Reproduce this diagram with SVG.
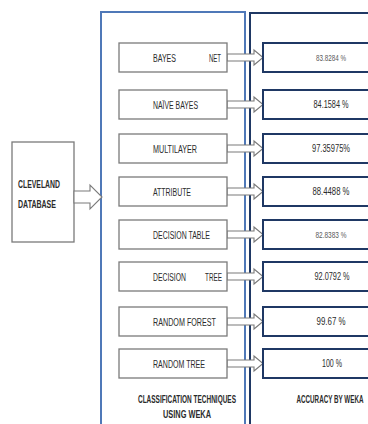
<svg xmlns="http://www.w3.org/2000/svg" width="368" height="424" viewBox="0 0 368 424">
<style>
.panelL{fill:none;stroke:#4f78b8;stroke-width:2}
.panelR{fill:none;stroke:#1f3864;stroke-width:2}
.box{fill:#fff;stroke:#7a7a7a;stroke-width:1.3}
.rbox{fill:#fff;stroke:#1f3864;stroke-width:2}
.arrow{fill:#fff;stroke:#7a7a7a;stroke-width:1.1}
.t{font-family:"Liberation Sans",Arial,sans-serif;font-size:10px;fill:#2b2b2b}
.v{font-family:"Liberation Sans",Arial,sans-serif;font-size:10px;fill:#2b2b2b;text-anchor:middle}
.vs{font-family:"Liberation Sans",Arial,sans-serif;font-size:9px;fill:#5a5a5a;text-anchor:middle}
.b{font-family:"Liberation Sans",Arial,sans-serif;font-size:10px;font-weight:bold;fill:#2b2b2b}
.bc{font-family:"Liberation Sans",Arial,sans-serif;font-size:10px;font-weight:bold;fill:#2b2b2b;text-anchor:middle}
</style>
<rect width="368" height="424" fill="#fff"/>
<g id="panel-classification">
<rect class="panelL" x="101" y="12" width="144" height="500"/>
<text class="bc" x="187" y="403" textLength="98" lengthAdjust="spacingAndGlyphs">CLASSIFICATION TECHNIQUES</text>
<text class="bc" x="187" y="418" textLength="48" lengthAdjust="spacingAndGlyphs">USING WEKA</text>
</g>
<g id="panel-accuracy">
<rect class="panelR" x="250" y="13" width="200" height="500"/>
<text class="bc" x="330" y="403" textLength="67" lengthAdjust="spacingAndGlyphs">ACCURACY BY WEKA</text>
</g>
<g id="cleveland">
<rect class="box" x="12" y="142" width="62" height="100"/>
<text class="b" x="18" y="188" textLength="42" lengthAdjust="spacingAndGlyphs">CLEVELAND</text>
<text class="b" x="18" y="208" textLength="38" lengthAdjust="spacingAndGlyphs">DATABASE</text>
</g>
<g id="connectors">
<path class="arrow" d="M74,191 H90 V185 L102,197 L90,209 V203 H74 Z"/>
<path class="arrow" d="M227,54 H254 V50 L263,57.5 L254,65 V61 H227 Z"/>
<path class="arrow" d="M227,101 H254 V97 L263,104.5 L254,112 V108 H227 Z"/>
<path class="arrow" d="M227,145 H254 V141 L263,148.5 L254,156 V152 H227 Z"/>
<path class="arrow" d="M227,188 H254 V184 L263,191.5 L254,199 V195 H227 Z"/>
<path class="arrow" d="M227,231 H254 V227 L263,234.5 L254,242 V238 H227 Z"/>
<path class="arrow" d="M227,273 H254 V269 L263,276.5 L254,284 V280 H227 Z"/>
<path class="arrow" d="M227,318 H254 V314 L263,321.5 L254,329 V325 H227 Z"/>
<path class="arrow" d="M227,360 H254 V356 L263,363.5 L254,371 V367 H227 Z"/>
</g>
<g id="bayes-net">
<rect class="box" x="119" y="43" width="108" height="29"/>
<text class="t" x="153" y="61.5" textLength="23" lengthAdjust="spacingAndGlyphs">BAYES</text>
<text class="t" x="209" y="61.5" textLength="12" lengthAdjust="spacingAndGlyphs">NET</text>
</g>
<g id="naive-bayes">
<rect class="box" x="119" y="90" width="108" height="29"/>
<text class="t" x="153" y="108.5" textLength="45" lengthAdjust="spacingAndGlyphs">NAÏVE BAYES</text>
</g>
<g id="multilayer">
<rect class="box" x="119" y="134" width="108" height="29"/>
<text class="t" x="153" y="152.5" textLength="44" lengthAdjust="spacingAndGlyphs">MULTILAYER</text>
</g>
<g id="attribute">
<rect class="box" x="119" y="177" width="108" height="29"/>
<text class="t" x="153" y="195.5" textLength="38" lengthAdjust="spacingAndGlyphs">ATTRIBUTE</text>
</g>
<g id="decision-table">
<rect class="box" x="119" y="220" width="108" height="29"/>
<text class="t" x="153" y="238.5" textLength="57" lengthAdjust="spacingAndGlyphs">DECISION TABLE</text>
</g>
<g id="decision-tree">
<rect class="box" x="119" y="262" width="108" height="29"/>
<text class="t" x="153" y="280.5" textLength="33" lengthAdjust="spacingAndGlyphs">DECISION</text>
<text class="t" x="205" y="280.5" textLength="17" lengthAdjust="spacingAndGlyphs">TREE</text>
</g>
<g id="random-forest">
<rect class="box" x="119" y="307" width="108" height="29"/>
<text class="t" x="153" y="325.5" textLength="63" lengthAdjust="spacingAndGlyphs">RANDOM FOREST</text>
</g>
<g id="random-tree">
<rect class="box" x="119" y="349" width="108" height="29"/>
<text class="t" x="153" y="367.5" textLength="52" lengthAdjust="spacingAndGlyphs">RANDOM TREE</text>
</g>
<g id="acc-bayes-net">
<rect class="rbox" x="263" y="43" width="137" height="29"/>
<text class="vs" x="331" y="61" textLength="30" lengthAdjust="spacingAndGlyphs">83.8284 %</text>
</g>
<g id="acc-naive-bayes">
<rect class="rbox" x="263" y="90" width="137" height="29"/>
<text class="v" x="331" y="108" textLength="35" lengthAdjust="spacingAndGlyphs">84.1584 %</text>
</g>
<g id="acc-multilayer">
<rect class="rbox" x="263" y="134" width="137" height="29"/>
<text class="v" x="331" y="152" textLength="38" lengthAdjust="spacingAndGlyphs">97.35975%</text>
</g>
<g id="acc-attribute">
<rect class="rbox" x="263" y="177" width="137" height="29"/>
<text class="v" x="331" y="195" textLength="37" lengthAdjust="spacingAndGlyphs">88.4488 %</text>
</g>
<g id="acc-decision-table">
<rect class="rbox" x="263" y="220" width="137" height="29"/>
<text class="vs" x="331" y="238" textLength="31" lengthAdjust="spacingAndGlyphs">82.8383 %</text>
</g>
<g id="acc-decision-tree">
<rect class="rbox" x="263" y="262" width="137" height="29"/>
<text class="v" x="332" y="280" textLength="35" lengthAdjust="spacingAndGlyphs">92.0792 %</text>
</g>
<g id="acc-random-forest">
<rect class="rbox" x="263" y="307" width="137" height="29"/>
<text class="v" x="331" y="325" textLength="29" lengthAdjust="spacingAndGlyphs">99.67 %</text>
</g>
<g id="acc-random-tree">
<rect class="rbox" x="263" y="349" width="137" height="29"/>
<text class="v" x="332" y="367" textLength="20" lengthAdjust="spacingAndGlyphs">100 %</text>
</g>
</svg>
